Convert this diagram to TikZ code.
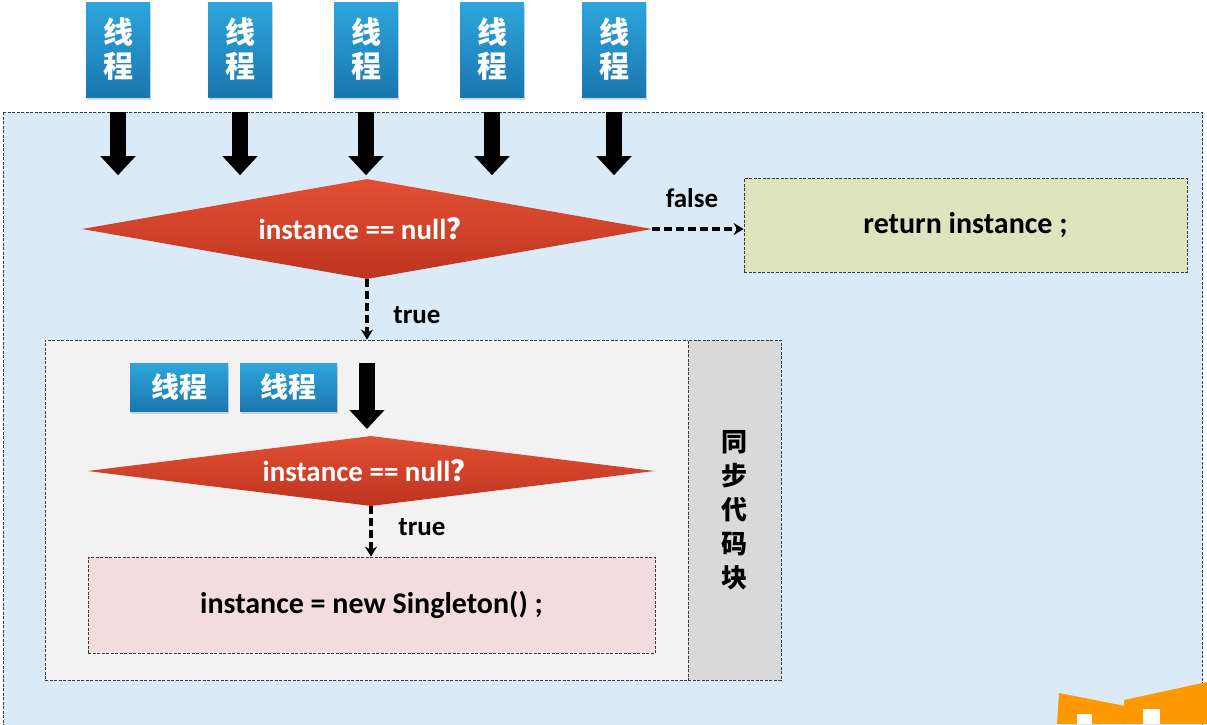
\documentclass[tikz,border=0pt]{standalone}
\usepackage{fontspec}
\setmainfont{Carlito}
\newfontfamily\cjk{Noto Sans CJK SC}
\usetikzlibrary{shapes.geometric}
\usetikzlibrary{arrows.meta}
\usetikzlibrary{shadows}
\definecolor{bgblue}{RGB}{218,234,246}
\definecolor{blueT}{RGB}{46,166,222}
\definecolor{blueB}{RGB}{26,118,174}
\definecolor{redT}{RGB}{226,80,52}
\definecolor{redB}{RGB}{190,52,32}
\definecolor{retfill}{RGB}{221,228,190}
\definecolor{pinkfill}{RGB}{242,220,220}
\definecolor{syncfill}{RGB}{242,242,242}
\definecolor{lockfill}{RGB}{217,217,217}
\definecolor{logo}{RGB}{255,153,0}
\definecolor{frameline}{RGB}{60,60,60}
\newcommand{\qm}{{\cjk ？}}

\begin{document}
\begin{tikzpicture}[x=1pt,y=1pt,yscale=-1,xscale=1,
  thread/.style={rectangle,top color=blueT,bottom color=blueB,draw=none,text=white,inner sep=0pt,
    align=center,font=\cjk\bfseries\fontsize{30}{34}\selectfont,
    drop shadow={shadow xshift=1pt,shadow yshift=-3pt,opacity=0.3}},
  cond/.style={diamond,top color=redT,bottom color=redB,draw=none,text=white,inner sep=0pt,
    font=\bfseries\fontsize{29}{34}\selectfont},
  codebox/.style={rectangle,draw=frameline,dash pattern=on 3pt off 1.5pt,line width=0.8pt,
    font=\bfseries\fontsize{30}{34}\selectfont},
  fatarrow/.style={line width=16pt,-{Triangle[length=19pt,width=34pt]}},
  dasharrow/.style={line width=3.5pt,dash pattern=on 8pt off 4pt,-{Stealth[length=10pt,width=12pt]}},
  lbl/.style={font=\bfseries\fontsize{27}{30}\selectfont,inner sep=0pt}]
\useasboundingbox (0,0) rectangle (1207,724);

%Shape: Rectangle (outer frame)
\draw [fill=bgblue,draw=frameline,dash pattern=on 3pt off 1.5pt,line width=0.8pt] (3,112) rectangle (1202,726) ;

%Threads on top
\foreach \n/\x in {1/118,2/240,3/366,4/492,5/614}{
  \node [thread,minimum width=64pt,minimum height=95pt] (t\n) at (\x,49.5) {线\\程};
}

% Condition 1
\node [cond,minimum width=570pt,minimum height=100pt,aspect=5.7] (q1) at (367,229) {instance == null\qm};

% Fat arrows
\foreach \n in {1,...,5}{
  \draw [fatarrow] ([yshift=15pt]t\n.south) -- ++(0,63) ;
}

% Return box
\node [codebox,fill=retfill,minimum width=443pt,minimum height=94pt] (ret) at (965.5,225) {return instance ;};
\draw [dasharrow] (q1.east) -- (q1.east -| ret.west) ;
\node [lbl] (f) at (692,198) {false};

% Synchronized block
\node [codebox,fill=syncfill,minimum width=643pt,minimum height=340pt] (sync) at (366.5,510) {};
\node [codebox,fill=lockfill,minimum width=93pt,minimum height=340pt,align=center,
  font=\cjk\bfseries\fontsize{26}{34}\selectfont] (lock) at (734.5,510) {同\\步\\代\\码\\块};
\draw [dasharrow] (q1.south) -- (q1.south |- sync.north) ;
\node [lbl] (t) at (417,315) {true};

% Waiting threads
\node [thread,minimum width=98pt,minimum height=48pt,font=\cjk\bfseries\fontsize{28}{32}\selectfont] (s1) at (179,387) {线程};
\node [thread,minimum width=97pt,minimum height=48pt,font=\cjk\bfseries\fontsize{28}{32}\selectfont] (s2) at (288.5,387) {线程};

% Condition 2
\node [cond,minimum width=567pt,minimum height=70pt,aspect=8] (q2) at (371,471) {instance == null\qm};
\draw [fatarrow] (367,363) -- (367,429) ;

% Creation box
\node [codebox,fill=pinkfill,minimum width=567pt,minimum height=96pt] (new) at (371.5,605) {instance = new Singleton() ;};
\draw [dasharrow] (q2.south) -- (q2.south |- new.north) ;
\node [lbl] (t2) at (422,527) {true};

% Logo corner
\fill [logo] (1059,693) -- (1125,706) -- (1125,724) -- (1057,724) -- cycle ;
\fill [logo] (1124,700) -- (1207,682) -- (1207,724) -- (1124,724) -- cycle ;
\fill [white] (1077,714) rectangle (1092,724) ;
\fill [white] (1143,709) rectangle (1160,724) ;
\end{tikzpicture}
\end{document}
